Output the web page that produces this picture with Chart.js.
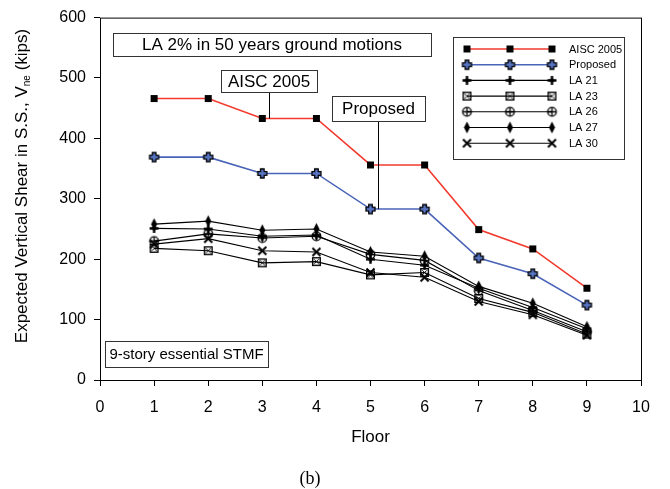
<!DOCTYPE html>
<html>
<head>
<meta charset="utf-8">
<script src="https://cdn.jsdelivr.net/npm/chart.js@4.4.1/dist/chart.umd.min.js"></script>
<style>
  html, body { margin: 0; padding: 0; background: #fff; }
  #wrap { width: 670px; height: 489px; }
</style>
</head>
<body>
<div id="wrap"><canvas id="vneChart"></canvas></div>
<script>
/* ------------------------------------------------------------
   Données
------------------------------------------------------------ */
const floors   = [1, 2, 3, 4, 5, 6, 7, 8, 9];
const aisc2005 = [466, 466, 433, 433, 356, 356, 249, 217, 152];
const proposed = [369, 369, 342, 342, 283, 283, 202, 176, 124];
const la21     = [251, 250, 238, 240, 200, 190, 152, 120, 85];
const la23     = [218, 214, 194, 196, 174, 178, 135, 112, 76];
const la26     = [230, 242, 235, 238, 208, 198, 148, 115, 80];
const la27     = [258, 263, 248, 250, 212, 205, 155, 127, 88];
const la30     = [225, 234, 214, 212, 178, 170, 130, 108, 74];

const xTicks = [0, 1, 2, 3, 4, 5, 6, 7, 8, 9, 10];
const yTicks = [0, 100, 200, 300, 400, 500, 600];

// pointeurs des étiquettes (position sur la courbe)
const aiscPointer     = { x: 3.13, y: 433 };
const proposedPointer = { x: 5.14, y: 283 };

const FONT = '"Liberation Sans", Arial, sans-serif';

/* ------------------------------------------------------------
   Marqueurs dessinés à la main
------------------------------------------------------------ */
function marker(draw) {
    const c = document.createElement('canvas');
    c.width = 15; c.height = 15;
    const g = c.getContext('2d');
    g.translate(7.5, 7.5);
    g.strokeStyle = '#000';
    g.fillStyle = '#000';
    draw(g);
    return c;
}

function plusPath(g, a, w) {
    g.beginPath();
    g.moveTo(-w, -a); g.lineTo(w, -a); g.lineTo(w, -w); g.lineTo(a, -w);
    g.lineTo(a, w); g.lineTo(w, w); g.lineTo(w, a); g.lineTo(-w, a);
    g.lineTo(-w, w); g.lineTo(-a, w); g.lineTo(-a, -w); g.lineTo(-w, -w);
    g.closePath();
}

const mkSquare = marker(g => g.fillRect(-3.5, -3.5, 7, 7));

const mkPlusOutline = marker(g => {
    plusPath(g, 4.5, 1.8);
    g.fillStyle = '#5a78c8';
    g.fill();
    g.lineWidth = 1.3;
    g.stroke();
});

const mkPlus = marker(g => {
    plusPath(g, 4.5, 1.2);
    g.fill();
    g.beginPath(); g.arc(0, 0, 2.2, 0, Math.PI * 2); g.fill();
});

const mkSquareX = marker(g => {
    g.lineWidth = 1.4;
    g.strokeRect(-3.8, -3.8, 7.6, 7.6);
    g.lineWidth = 1;
    g.beginPath();
    g.moveTo(-2.2, -2.2); g.lineTo(2.2, 2.2);
    g.moveTo(2.2, -2.2); g.lineTo(-2.2, 2.2);
    g.stroke();
});

const mkCirclePlus = marker(g => {
    g.lineWidth = 1.3;
    g.beginPath(); g.arc(0, 0, 4.3, 0, Math.PI * 2); g.stroke();
    g.beginPath();
    g.moveTo(-4.3, 0); g.lineTo(4.3, 0);
    g.moveTo(0, -4.3); g.lineTo(0, 4.3);
    g.stroke();
});

const mkDiamond = marker(g => {
    g.beginPath();
    g.moveTo(0, -6); g.lineTo(3, 0); g.lineTo(0, 6); g.lineTo(-3, 0);
    g.closePath(); g.fill();
});

const mkX = marker(g => {
    g.lineWidth = 2;
    g.beginPath();
    g.moveTo(-4, -4); g.lineTo(4, 4);
    g.moveTo(4, -4); g.lineTo(-4, 4);
    g.stroke();
});

/* ------------------------------------------------------------
   Séries
------------------------------------------------------------ */
const series = [
    { label: 'AISC 2005', values: aisc2005, color: '#f23a2e', marker: mkSquare },
    { label: 'Proposed',  values: proposed, color: '#4a64b8', marker: mkPlusOutline },
    { label: 'LA 21',     values: la21,     color: '#000',    marker: mkPlus },
    { label: 'LA 23',     values: la23,     color: '#000',    marker: mkSquareX },
    { label: 'LA 26',     values: la26,     color: '#000',    marker: mkCirclePlus },
    { label: 'LA 27',     values: la27,     color: '#000',    marker: mkDiamond },
    { label: 'LA 30',     values: la30,     color: '#000',    marker: mkX }
];

const datasets = series.map((s, i) => ({
    label: s.label,
    data: floors.map((f, k) => ({ x: f, y: s.values[k] })),
    borderColor: s.color,
    borderWidth: i < 2 ? 1.6 : 1.1,
    pointStyle: s.marker,
    pointRadius: 5,
    order: series.length - i,
    fill: false,
    tension: 0
}));

/* ------------------------------------------------------------
   Décor : cadre, légende, étiquettes, titres
------------------------------------------------------------ */
function box(ctx, x, y, w, h, text, size) {
    ctx.fillStyle = '#fff';
    ctx.fillRect(x, y, w, h);
    ctx.strokeStyle = '#333';
    ctx.lineWidth = 1;
    ctx.strokeRect(x + 0.5, y + 0.5, w, h);
    ctx.fillStyle = '#000';
    ctx.font = `${size}px ${FONT}`;
    ctx.textAlign = 'center';
    ctx.textBaseline = 'middle';
    ctx.fillText(text, x + w / 2, y + h / 2 + 1);
}

const decor = {
    id: 'decor',
    afterDatasetsDraw(chart) {
        const { ctx, chartArea: a, scales: { x, y } } = chart;
        ctx.save();

        // cadre
        ctx.strokeStyle = '#000';
        ctx.lineWidth = 1;
        ctx.strokeRect(a.left + 0.5, a.top + 0.5, a.right - a.left, a.bottom - a.top);

        // pointeurs
        ctx.strokeStyle = '#000';
        ctx.lineWidth = 1;
        ctx.beginPath();
        const ax = Math.round(x.getPixelForValue(aiscPointer.x)) + 0.5;
        ctx.moveTo(ax, 91); ctx.lineTo(ax, y.getPixelForValue(aiscPointer.y));
        const px = Math.round(x.getPixelForValue(proposedPointer.x)) + 0.5;
        ctx.moveTo(px, 121); ctx.lineTo(px, y.getPixelForValue(proposedPointer.y));
        ctx.stroke();

        box(ctx, 113, 33, 318, 23, 'LA 2% in 50 years ground motions', 17);
        box(ctx, 221, 70, 96, 22, 'AISC 2005', 17);
        box(ctx, 332, 96, 93, 25, 'Proposed', 17);
        box(ctx, 105, 341, 163, 26, '9-story essential STMF', 15);

        // légende
        ctx.fillStyle = '#fff';
        ctx.fillRect(453, 37, 171, 122);
        ctx.strokeStyle = '#333';
        ctx.strokeRect(453.5, 37.5, 171, 122);
        series.forEach((s, i) => {
            const ly = 49 + i * 15.7;
            ctx.strokeStyle = s.color;
            ctx.lineWidth = i < 2 ? 1.6 : 1.1;
            ctx.beginPath();
            ctx.moveTo(467, ly); ctx.lineTo(552, ly);
            ctx.stroke();
            [467, 510, 552].forEach(mx => ctx.drawImage(s.marker, mx - 7.5, ly - 7.5));
            ctx.fillStyle = '#000';
            ctx.font = `11px ${FONT}`;
            ctx.textAlign = 'left';
            ctx.textBaseline = 'middle';
            ctx.fillText(s.label, 569, ly + 0.5);
        });

        // titre de l'axe Y (avec indice)
        ctx.save();
        ctx.translate(22, 186);
        ctx.rotate(-Math.PI / 2);
        ctx.fillStyle = '#000';
        ctx.textBaseline = 'middle';
        ctx.textAlign = 'left';
        const p1 = 'Expected Vertical Shear in S.S., V';
        const sub = 'ne';
        const p2 = ' (kips)';
        ctx.font = `17px ${FONT}`;
        const w1 = ctx.measureText(p1).width;
        const w3 = ctx.measureText(p2).width;
        ctx.font = `10px ${FONT}`;
        const w2 = ctx.measureText(sub).width;
        let sx = -(w1 + w2 + w3) / 2;
        ctx.font = `17px ${FONT}`;
        ctx.fillText(p1, sx, 0);
        ctx.font = `10px ${FONT}`;
        ctx.fillText(sub, sx + w1, 5);
        ctx.font = `17px ${FONT}`;
        ctx.fillText(p2, sx + w1 + w2, 0);
        ctx.restore();

        // titre de l'axe X et légende de figure
        ctx.fillStyle = '#000';
        ctx.textAlign = 'center';
        ctx.textBaseline = 'middle';
        ctx.font = `17px ${FONT}`;
        ctx.fillText('Floor', (a.left + a.right) / 2, 437);
        ctx.font = `18px "Liberation Serif", "Times New Roman", serif`;
        ctx.fillText('(b)', 310, 479);

        ctx.restore();
    }
};

/* ------------------------------------------------------------
   Graphique
------------------------------------------------------------ */
new Chart(document.getElementById('vneChart'), {
    type: 'line',
    data: { datasets },
    options: {
        responsive: true,
        maintainAspectRatio: false,
        animation: false,
        layout: { padding: { top: 17, right: 29, left: 0, bottom: 0 } },
        plugins: {
            legend: { display: false },
            tooltip: { enabled: false }
        },
        scales: {
            x: {
                type: 'linear',
                min: 0, max: 10,
                afterFit: s => { s.height = 109; },
                afterBuildTicks: s => { s.ticks = xTicks.map(v => ({ value: v })); },
                grid: { drawOnChartArea: false, color: '#000', tickLength: 6 },
                border: { display: false },
                ticks: { color: '#000', padding: 12, font: { family: FONT, size: 16 }, maxRotation: 0 }
            },
            y: {
                min: 0, max: 600,
                afterFit: s => { s.width = 100; },
                afterBuildTicks: s => { s.ticks = yTicks.map(v => ({ value: v })); },
                grid: { drawOnChartArea: false, color: '#000', tickLength: 6 },
                border: { display: false },
                ticks: { color: '#000', padding: 8, font: { family: FONT, size: 16 } }
            }
        }
    },
    plugins: [decor]
});
</script>
</body>
</html>
